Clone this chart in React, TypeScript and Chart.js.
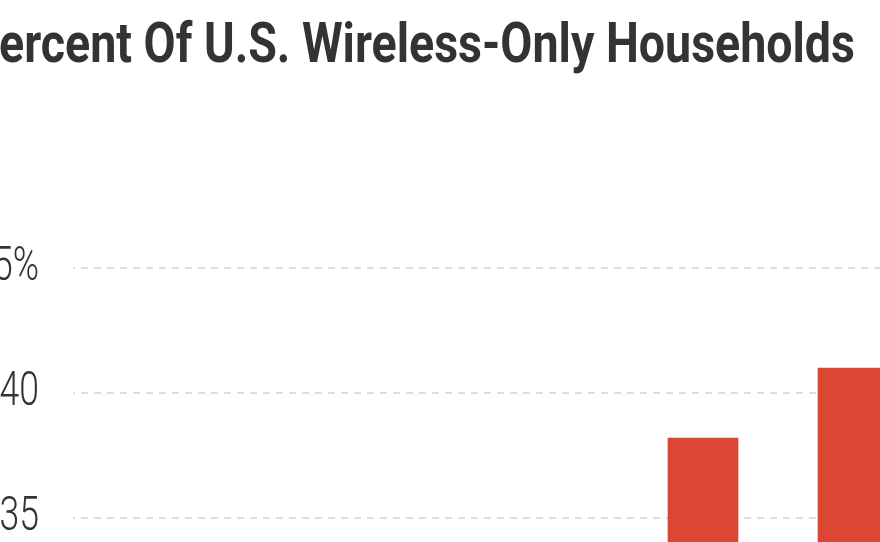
import { useEffect, useRef } from "react";
import { Chart, registerables, type Chart as ChartType } from "chart.js";

Chart.register(...registerables);

const TITLE = "Percent Of U.S. Wireless-Only Households";
const years = [2008, 2009, 2010, 2011, 2012, 2013];
const shares = [20.2, 24.5, 29.7, 33.6, 38.2, 41.0];
const yTicks = [30, 35, 40, 45];

const RED = "#db4732";
const INK = "#333333";

// no condensed face is installed, so squeeze Roboto horizontally
const fitTitle = {
  id: "cropTitle",
  afterDraw(chart: ChartType) {
    const { ctx } = chart;
    ctx.save();
    ctx.font = "bold 55px Roboto, sans-serif";
    ctx.fillStyle = INK;
    ctx.textAlign = "right";
    ctx.textBaseline = "alphabetic";
    // "ercent ... Households" spans 0..855 in the source crop
    const sx = 856 / ctx.measureText(TITLE.slice(1)).width;
    ctx.translate(855, 62);
    ctx.scale(sx, 1);
    ctx.fillText(TITLE, 0, 0);
    ctx.restore();
  },
};

const narrowTicks = {
  id: "narrowTicks",
  afterDraw(chart: ChartType) {
    const { ctx, chartArea } = chart;
    const y = chart.scales.y;
    ctx.save();
    ctx.font = "300 48px Roboto, sans-serif";
    ctx.fillStyle = INK;
    ctx.textAlign = "right";
    ctx.textBaseline = "middle";
    for (const v of yTicks) {
      ctx.save();
      ctx.translate(chartArea.left - 34, y.getPixelForValue(v));
      ctx.scale(0.74, 1);
      ctx.fillText(v === 45 ? v + "%" : String(v), 0, 0);
      ctx.restore();
    }
    ctx.restore();
  },
};

export default function App() {
  const ref = useRef<HTMLCanvasElement>(null);

  useEffect(() => {
    if (!ref.current) return;
    const chart = new Chart(ref.current, {
      type: "bar",
      data: {
        datasets: [
          {
            data: years.map((x, i) => ({ x, y: shares[i] })),
            backgroundColor: RED,
            borderWidth: 0,
            barThickness: 70,
          },
        ],
      },
      options: {
        responsive: true,
        maintainAspectRatio: false,
        animation: false,
        layout: { padding: { top: 268, bottom: 57, left: 0, right: 0 } },
        plugins: { legend: { display: false }, tooltip: { enabled: false }, title: { display: false } },
        scales: {
          x: { type: "linear", min: 2007.8, max: 2013.8, offset: false, display: false },
          y: {
            min: 30,
            max: 45,
            afterFit: (s) => {
              s.width = 73;
            },
            afterBuildTicks: (s) => {
              s.ticks = yTicks.map((value) => ({ value }));
            },
            grid: {
              drawTicks: false,
              color: "#dedede",
              lineWidth: 2,
            },
            border: { display: false, dash: [7, 6], dashOffset: 5 },
            ticks: { display: false },
          },
        },
      },
      plugins: [fitTitle, narrowTicks],
    });
    return () => chart.destroy();
  }, []);

  return (
    <div style={{ position: "absolute", left: 0, top: 0, width: 880, height: 542, overflow: "hidden", background: "#fff" }}>
      <div style={{ position: "relative", width: 973, height: 700 }}>
        <canvas ref={ref} />
      </div>
    </div>
  );
}
